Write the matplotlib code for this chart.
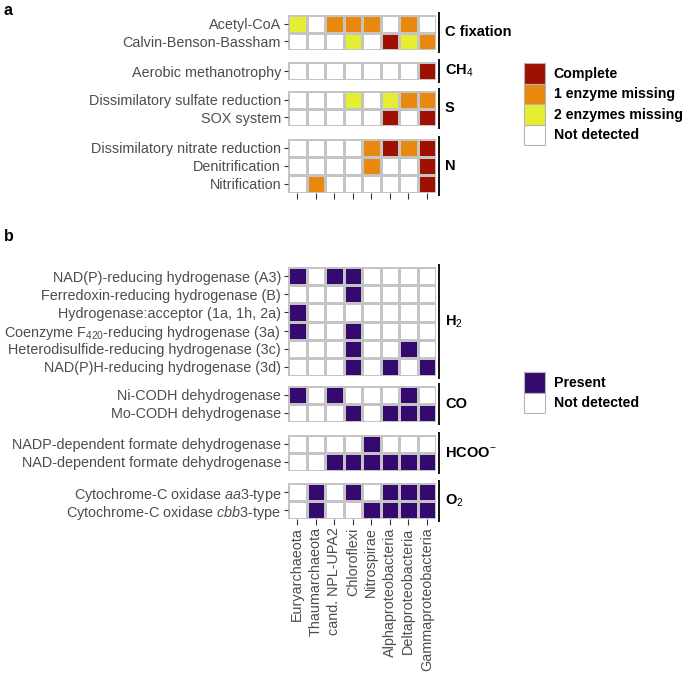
import numpy as np
import matplotlib.pyplot as plt
from matplotlib.colors import ListedColormap
from matplotlib.patches import Patch

plt.rcParams['font.family'] = ['Liberation Sans', 'DejaVu Sans']
plt.rcParams['mathtext.fontset'] = 'custom'
plt.rcParams['mathtext.rm'] = 'Liberation Sans'
plt.rcParams['mathtext.it'] = 'Liberation Sans:italic'
plt.rcParams['mathtext.bf'] = 'Liberation Sans:bold'

# ---- data ----
taxa = ['Euryarchaeota', 'Thaumarchaeota', 'cand. NPL-UPA2', 'Chloroflexi',
        'Nitrospirae', 'Alphaproteobacteria', 'Deltaproteobacteria',
        'Gammaproteobacteria']

# panel a: 0 = not detected, 1 = 2 enzymes missing, 2 = 1 enzyme missing, 3 = complete
a_groups = ['C fixation', 'CH$_4$', 'S', 'N']
a_rows = [
    ['Acetyl-CoA', 'Calvin-Benson-Bassham'],
    ['Aerobic methanotrophy'],
    ['Dissimilatory sulfate reduction', 'SOX system'],
    ['Dissimilatory nitrate reduction', 'Denitrification', 'Nitrification'],
]
a_values = [
    [[1, 0, 2, 2, 2, 0, 2, 0],
     [0, 0, 0, 1, 0, 3, 1, 2]],
    [[0, 0, 0, 0, 0, 0, 0, 3]],
    [[0, 0, 0, 1, 0, 1, 2, 2],
     [0, 0, 0, 0, 0, 3, 0, 3]],
    [[0, 0, 0, 0, 2, 3, 2, 3],
     [0, 0, 0, 0, 2, 0, 0, 3],
     [0, 2, 0, 0, 0, 0, 0, 3]],
]
a_levels = ['Not detected', '2 enzymes missing', '1 enzyme missing', 'Complete']
a_colors = ['#ffffff', '#e5ee30', '#e8880f', '#9e1002']

# panel b: 0 = not detected, 1 = present
b_groups = ['H$_2$', 'CO', 'HCOO$^{-}$', 'O$_2$']
b_rows = [
    ['NAD(P)-reducing hydrogenase (A3)', 'Ferredoxin-reducing hydrogenase (B)',
     'Hydrogenase:acceptor (1a, 1h, 2a)', 'Coenzyme F$_{420}$-reducing hydrogenase (3a)',
     'Heterodisulfide-reducing hydrogenase (3c)', 'NAD(P)H-reducing hydrogenase (3d)'],
    ['Ni-CODH dehydrogenase', 'Mo-CODH dehydrogenase'],
    ['NADP-dependent formate dehydrogenase', 'NAD-dependent formate dehydrogenase'],
    ['Cytochrome-C oxidase $\\mathit{aa3}$-type', 'Cytochrome-C oxidase $\\mathit{cbb3}$-type'],
]
b_values = [
    [[1, 0, 1, 1, 0, 0, 0, 0],
     [0, 0, 0, 1, 0, 0, 0, 0],
     [1, 0, 0, 0, 0, 0, 0, 0],
     [1, 0, 0, 1, 0, 0, 0, 0],
     [0, 0, 0, 1, 0, 0, 1, 0],
     [0, 0, 0, 1, 0, 1, 0, 1]],
    [[1, 0, 1, 0, 0, 0, 1, 0],
     [0, 0, 0, 1, 0, 1, 1, 1]],
    [[0, 0, 0, 0, 1, 0, 0, 0],
     [0, 0, 1, 1, 1, 1, 1, 1]],
    [[0, 1, 0, 1, 0, 1, 1, 1],
     [0, 1, 0, 0, 1, 1, 1, 1]],
]
b_levels = ['Not detected', 'Present']
b_colors = ['#ffffff', '#340a6e']

# ---- layout (pixel boxes: left, top, right, bottom) ----
W, H = 685, 674
fig = plt.figure(figsize=(W / 100, H / 100), dpi=100)

a_boxes = [(288, 15, 436, 50), (288, 62, 436, 80), (288, 91, 436, 126), (288, 139, 436, 193)]
b_boxes = [(288, 267, 436, 376), (288, 386, 436, 422), (288, 435, 436, 471), (288, 483, 436, 519)]

TICK_COL = '#333333'
LAB_COL = '#4d4d4d'
EDGE = '#c4c4c4'
LAB_SIZE = 10.4


def add_box(box):
    l, t, r, b = box
    return fig.add_axes([l / W, 1 - b / H, (r - l) / W, (b - t) / H])


def draw_facet(box, rows, values, group, colors, last, xlabels):
    ax = add_box(box)
    data = np.array(values)
    n = data.shape[0]
    cmap = ListedColormap(colors)
    ax.pcolormesh(np.arange(len(taxa) + 1), np.arange(n + 1), data, cmap=cmap,
                  vmin=-0.5, vmax=len(colors) - 0.5, edgecolors=EDGE, linewidth=1.0)
    ax.set_xlim(0, len(taxa))
    ax.set_ylim(n, 0)
    ax.set_yticks(np.arange(n) + 0.5)
    ax.set_yticklabels(rows, fontsize=LAB_SIZE, color=LAB_COL)
    ax.set_xticks(np.arange(len(taxa)) + 0.5)
    if last and xlabels:
        ax.set_xticklabels(taxa, rotation=90, fontsize=LAB_SIZE, color=LAB_COL)
    else:
        ax.set_xticklabels([])
    ax.tick_params(axis='y', length=3, width=0.8, color=TICK_COL, pad=2)
    ax.tick_params(axis='x', length=4 if last else 0, width=0.8, color=TICK_COL, pad=2)
    for s in ax.spines.values():
        s.set_visible(False)
    # facet strip: vertical bar + bold label
    hpx = box[3] - box[1]
    ext = 3 / hpx
    ax.plot([1.02, 1.02], [-ext, 1 + ext], transform=ax.transAxes, color='black',
            lw=1.3, clip_on=False, solid_capstyle='butt')
    ax.text(1.06, 0.5, group, transform=ax.transAxes, ha='left', va='center',
            fontsize=10.5, fontweight='bold', color='black')
    return ax


for i in range(4):
    draw_facet(a_boxes[i], a_rows[i], a_values[i], a_groups[i], a_colors, i == 3, False)
for i in range(4):
    draw_facet(b_boxes[i], b_rows[i], b_values[i], b_groups[i], b_colors, i == 3, True)

# legends
leg_kw = dict(loc='upper left', frameon=False, borderpad=0, borderaxespad=0,
              labelspacing=0, handlelength=1.48, handleheight=1.85,
              handletextpad=0.62, prop={'size': 10.2, 'weight': 'bold'})
a_handles = [Patch(facecolor=a_colors[k], edgecolor='#b5b5b5', lw=0.8, label=a_levels[k])
             for k in [3, 2, 1, 0]]
fig.legend(handles=a_handles, bbox_to_anchor=(524 / W, 1 - 63 / H), **leg_kw)
b_handles = [Patch(facecolor=b_colors[k], edgecolor='#b5b5b5', lw=0.8, label=b_levels[k])
             for k in [1, 0]]
fig.legend(handles=b_handles, bbox_to_anchor=(524 / W, 1 - 372 / H), **leg_kw)

# panel letters
fig.text(4 / W, 1 - 3 / H, 'a', fontsize=11.5, fontweight='bold', va='top', ha='left')
fig.text(4 / W, 1 - 229 / H, 'b', fontsize=11.5, fontweight='bold', va='top', ha='left')

fig.savefig('out.png', dpi=100)
